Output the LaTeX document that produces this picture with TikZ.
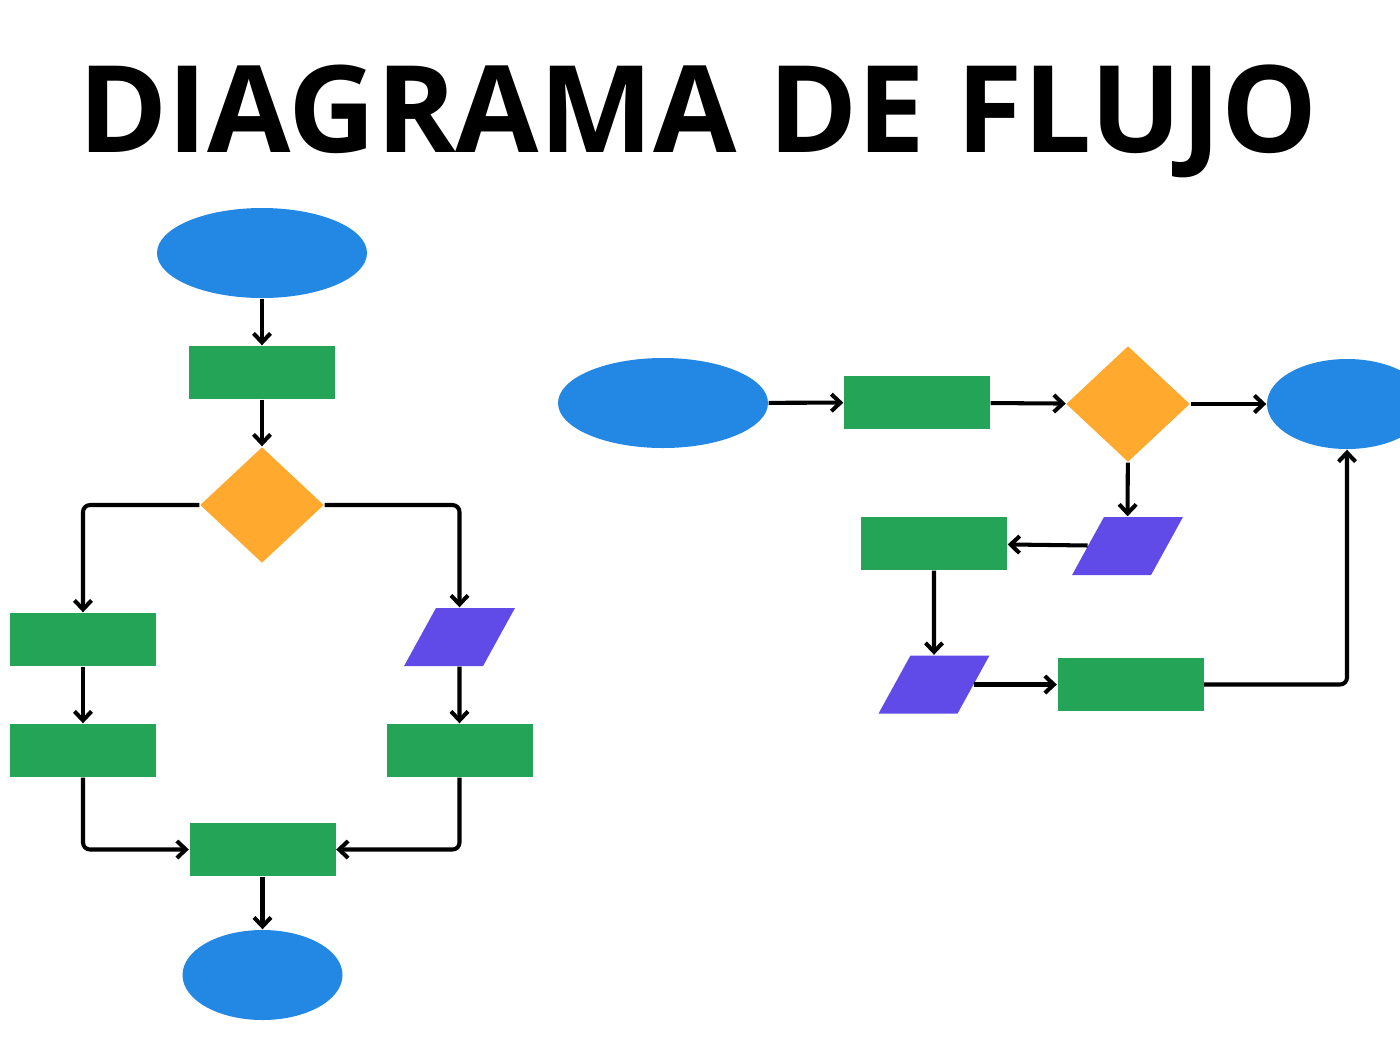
\documentclass[tikz,border=0pt]{standalone}
\usepackage{fontspec}
\setmainfont{Open Sans}
\usepackage{tikz}
\usetikzlibrary{shapes.geometric, arrows.meta, positioning}

\definecolor{azul}{HTML}{2388E3}
\definecolor{verde}{HTML}{24A457}
\definecolor{naranja}{HTML}{FFA92F}
\definecolor{morado}{HTML}{604BE8}

\begin{document}
\begin{tikzpicture}[
    terminalbox/.style={ellipse, fill=azul, inner sep=0pt, minimum width=2.1cm, minimum height=0.9cm},
    processbox/.style={rectangle, fill=verde, inner sep=0pt, minimum width=1.46cm, minimum height=0.53cm},
    decisionbox/.style={diamond, fill=naranja, inner sep=0pt, aspect=1.07, minimum width=1.24cm, minimum height=1.16cm},
    iobox/.style={rectangle, fill=morado, inner sep=0pt, minimum width=0.79cm, minimum height=0.58cm,
                  xslant=0.55, transform shape},
    flow/.style={line width=1.15pt, -{Straight Barb[length=0.9mm, width=1.7mm]}, rounded corners=0.7mm}
  ]
  \clip (0,0) rectangle (14,-10.5);

  \node[anchor=base, font=\bfseries\fontsize{34.4}{40}\selectfont] (titulo) at (6.98,-1.52) {DIAGRAMA DE FLUJO};

  % left flow
  \node[terminalbox] (ini) at (2.62,-2.53) {};
  \node[processbox] (p1) at (2.62,-3.725) {};
  \node[decisionbox] (d1) at (2.62,-5.05) {};
  \node[processbox] (pa) at (0.83,-6.395) {};
  \node[processbox] (pb) at (0.83,-7.505) {};
  \node[iobox] (io1) at (4.595,-6.37) {};
  \node[processbox] (pc) at (4.595,-7.505) {};
  \node[processbox] (pd) at (2.625,-8.495) {};
  \node[terminalbox, minimum width=1.6cm] (fin) at (2.625,-9.75) {};

  \draw[flow] (ini) -- (p1);
  \draw[flow] (p1) -- (d1);
  \draw[flow] (d1.west) -| (pa.north);
  \draw[flow] (d1.east) -| (io1 |- io1.north);
  \draw[flow] (pa) -- (pb);
  \draw[flow] (io1) -- (pc);
  \draw[flow] (pb.south) |- (pd.west);
  \draw[flow] (pc.south) |- (pd.east);
  \draw[flow] (pd) -- (fin);

  % right flow
  \node[terminalbox] (ini2) at (6.63,-4.03) {};
  \node[processbox] (p2) at (9.17,-4.025) {};
  \node[decisionbox] (d2) at (11.28,-4.04) {};
  \node[terminalbox, minimum width=1.6cm] (fin2) at (13.47,-4.04) {};
  \node[iobox] (io2) at (11.275,-5.46) {};
  \node[processbox] (p3) at (9.34,-5.435) {};
  \node[iobox] (io3) at (9.34,-6.845) {};
  \node[processbox] (p4) at (11.305,-6.845) {};

  \draw[flow] (ini2) -- (p2);
  \draw[flow] (p2) -- (d2);
  \draw[flow] (d2) -- (fin2);
  \draw[flow] (d2) -- (io2);
  \draw[flow] (io2) -- (p3);
  \draw[flow] (p3) -- (io3);
  \draw[flow] (io3) -- (p4);
  \draw[flow] (p4.east) -| (fin2.south);
\end{tikzpicture}
\end{document}
